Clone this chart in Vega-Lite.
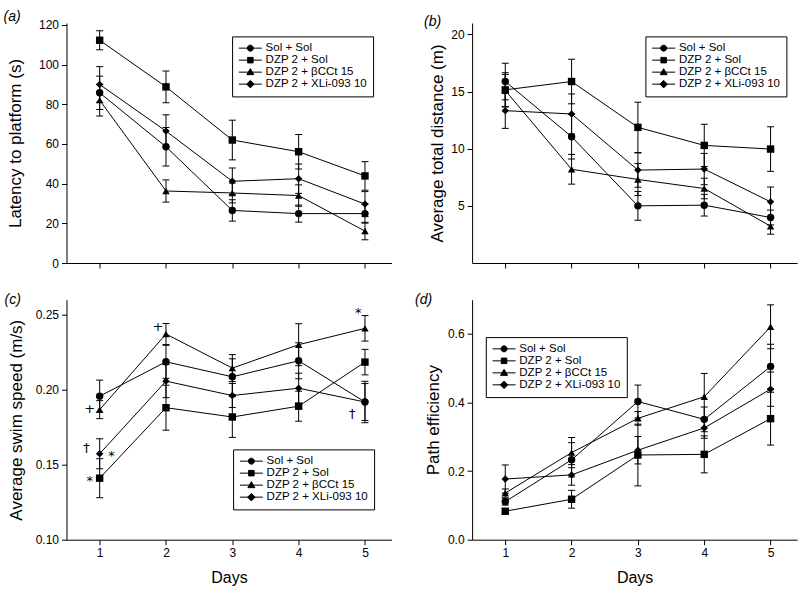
{
  "$schema": "https://vega.github.io/schema/vega-lite/v6.json",
  "background": "white",
  "padding": {"left": 3.5, "top": 10, "right": 5, "bottom": 5},
  "columns": 2,
  "spacing": {"row": 36.7, "column": 80.6},
  "bounds": "flush",
  "resolve": {"scale": {"x": "independent", "y": "independent", "shape": "independent"}, "legend": {"shape": "independent"}, "axis": {"x": "independent", "y": "independent"}},
  "datasets": {
    "pts": [
      {"panel": "a", "group": "Sol + Sol", "day": 1, "value": 85.8, "lo": 77.4, "hi": 94.2},
      {"panel": "a", "group": "Sol + Sol", "day": 2, "value": 58.6, "lo": 48.9, "hi": 68.3},
      {"panel": "a", "group": "Sol + Sol", "day": 3, "value": 26.5, "lo": 21.1, "hi": 31.9},
      {"panel": "a", "group": "Sol + Sol", "day": 4, "value": 24.9, "lo": 20.6, "hi": 29.2},
      {"panel": "a", "group": "Sol + Sol", "day": 5, "value": 24.9, "lo": 20.1, "hi": 29.7},
      {"panel": "a", "group": "DZP 2 + Sol", "day": 1, "value": 112.3, "lo": 107.5, "hi": 117.1},
      {"panel": "a", "group": "DZP 2 + Sol", "day": 2, "value": 88.8, "lo": 80.8, "hi": 96.8},
      {"panel": "a", "group": "DZP 2 + Sol", "day": 3, "value": 62.0, "lo": 52.0, "hi": 72.0},
      {"panel": "a", "group": "DZP 2 + Sol", "day": 4, "value": 56.1, "lo": 47.4, "hi": 64.8},
      {"panel": "a", "group": "DZP 2 + Sol", "day": 5, "value": 43.9, "lo": 36.7, "hi": 51.1},
      {"panel": "a", "group": "DZP 2 + βCCt 15", "day": 1, "value": 82.1, "lo": 74.1, "hi": 90.1},
      {"panel": "a", "group": "DZP 2 + βCCt 15", "day": 2, "value": 36.3, "lo": 30.7, "hi": 41.9},
      {"panel": "a", "group": "DZP 2 + βCCt 15", "day": 3, "value": 35.3, "lo": 30.3, "hi": 40.3},
      {"panel": "a", "group": "DZP 2 + βCCt 15", "day": 4, "value": 34.0, "lo": 28.6, "hi": 39.4},
      {"panel": "a", "group": "DZP 2 + βCCt 15", "day": 5, "value": 16.1, "lo": 11.7, "hi": 20.5},
      {"panel": "a", "group": "DZP 2 + XLi-093 10", "day": 1, "value": 90.0, "lo": 81.0, "hi": 99.0},
      {"panel": "a", "group": "DZP 2 + XLi-093 10", "day": 2, "value": 66.5, "lo": 58.3, "hi": 74.7},
      {"panel": "a", "group": "DZP 2 + XLi-093 10", "day": 3, "value": 41.2, "lo": 34.5, "hi": 47.9},
      {"panel": "a", "group": "DZP 2 + XLi-093 10", "day": 4, "value": 42.5, "lo": 35.1, "hi": 49.9},
      {"panel": "a", "group": "DZP 2 + XLi-093 10", "day": 5, "value": 29.7, "lo": 23.4, "hi": 36.0},

      {"panel": "b", "group": "Sol + Sol", "day": 1, "value": 15.88, "lo": 14.28, "hi": 17.48},
      {"panel": "b", "group": "Sol + Sol", "day": 2, "value": 11.05, "lo": 9.1, "hi": 13.0},
      {"panel": "b", "group": "Sol + Sol", "day": 3, "value": 5.0, "lo": 3.74, "hi": 6.26},
      {"panel": "b", "group": "Sol + Sol", "day": 4, "value": 5.06, "lo": 4.11, "hi": 6.01},
      {"panel": "b", "group": "Sol + Sol", "day": 5, "value": 3.98, "lo": 3.33, "hi": 4.63},
      {"panel": "b", "group": "DZP 2 + Sol", "day": 1, "value": 15.15, "lo": 13.65, "hi": 16.65},
      {"panel": "b", "group": "DZP 2 + Sol", "day": 2, "value": 15.88, "lo": 13.93, "hi": 17.83},
      {"panel": "b", "group": "DZP 2 + Sol", "day": 3, "value": 11.87, "lo": 9.67, "hi": 14.07},
      {"panel": "b", "group": "DZP 2 + Sol", "day": 4, "value": 10.29, "lo": 8.44, "hi": 12.14},
      {"panel": "b", "group": "DZP 2 + Sol", "day": 5, "value": 9.97, "lo": 8.02, "hi": 11.92},
      {"panel": "b", "group": "DZP 2 + βCCt 15", "day": 1, "value": 15.1, "lo": 13.7, "hi": 16.5},
      {"panel": "b", "group": "DZP 2 + βCCt 15", "day": 2, "value": 8.2, "lo": 6.9, "hi": 9.5},
      {"panel": "b", "group": "DZP 2 + βCCt 15", "day": 3, "value": 7.31, "lo": 5.91, "hi": 8.71},
      {"panel": "b", "group": "DZP 2 + βCCt 15", "day": 4, "value": 6.52, "lo": 5.62, "hi": 7.42},
      {"panel": "b", "group": "DZP 2 + βCCt 15", "day": 5, "value": 3.22, "lo": 2.52, "hi": 3.92},
      {"panel": "b", "group": "DZP 2 + XLi-093 10", "day": 1, "value": 13.33, "lo": 11.78, "hi": 14.88},
      {"panel": "b", "group": "DZP 2 + XLi-093 10", "day": 2, "value": 13.04, "lo": 11.29, "hi": 14.79},
      {"panel": "b", "group": "DZP 2 + XLi-093 10", "day": 3, "value": 8.13, "lo": 6.63, "hi": 9.63},
      {"panel": "b", "group": "DZP 2 + XLi-093 10", "day": 4, "value": 8.22, "lo": 6.85, "hi": 9.59},
      {"panel": "b", "group": "DZP 2 + XLi-093 10", "day": 5, "value": 5.35, "lo": 4.05, "hi": 6.65},

      {"panel": "c", "group": "Sol + Sol", "day": 1, "value": 0.1957, "lo": 0.185, "hi": 0.2064},
      {"panel": "c", "group": "Sol + Sol", "day": 2, "value": 0.2186, "lo": 0.2076, "hi": 0.2296},
      {"panel": "c", "group": "Sol + Sol", "day": 3, "value": 0.2086, "lo": 0.1966, "hi": 0.2206},
      {"panel": "c", "group": "Sol + Sol", "day": 4, "value": 0.2193, "lo": 0.2073, "hi": 0.2313},
      {"panel": "c", "group": "Sol + Sol", "day": 5, "value": 0.1918, "lo": 0.1795, "hi": 0.2041},
      {"panel": "c", "group": "DZP 2 + Sol", "day": 1, "value": 0.141, "lo": 0.128, "hi": 0.154},
      {"panel": "c", "group": "DZP 2 + Sol", "day": 2, "value": 0.188, "lo": 0.173, "hi": 0.203},
      {"panel": "c", "group": "DZP 2 + Sol", "day": 3, "value": 0.1818, "lo": 0.1682, "hi": 0.1954},
      {"panel": "c", "group": "DZP 2 + Sol", "day": 4, "value": 0.189, "lo": 0.179, "hi": 0.199},
      {"panel": "c", "group": "DZP 2 + Sol", "day": 5, "value": 0.2184, "lo": 0.2099, "hi": 0.2269},
      {"panel": "c", "group": "DZP 2 + βCCt 15", "day": 1, "value": 0.1867, "lo": 0.1807, "hi": 0.1927},
      {"panel": "c", "group": "DZP 2 + βCCt 15", "day": 2, "value": 0.2371, "lo": 0.2301, "hi": 0.2441},
      {"panel": "c", "group": "DZP 2 + βCCt 15", "day": 3, "value": 0.2144, "lo": 0.2054, "hi": 0.2234},
      {"panel": "c", "group": "DZP 2 + βCCt 15", "day": 4, "value": 0.23, "lo": 0.216, "hi": 0.244},
      {"panel": "c", "group": "DZP 2 + βCCt 15", "day": 5, "value": 0.2409, "lo": 0.2324, "hi": 0.2494},
      {"panel": "c", "group": "DZP 2 + XLi-093 10", "day": 1, "value": 0.1573, "lo": 0.1473, "hi": 0.1673},
      {"panel": "c", "group": "DZP 2 + XLi-093 10", "day": 2, "value": 0.2057, "lo": 0.1947, "hi": 0.2167},
      {"panel": "c", "group": "DZP 2 + XLi-093 10", "day": 3, "value": 0.1961, "lo": 0.1881, "hi": 0.2041},
      {"panel": "c", "group": "DZP 2 + XLi-093 10", "day": 4, "value": 0.201, "lo": 0.191, "hi": 0.211},
      {"panel": "c", "group": "DZP 2 + XLi-093 10", "day": 5, "value": 0.1918, "lo": 0.178, "hi": 0.2056},

      {"panel": "d", "group": "Sol + Sol", "day": 1, "value": 0.111, "lo": 0.101, "hi": 0.121},
      {"panel": "d", "group": "Sol + Sol", "day": 2, "value": 0.233, "lo": 0.183, "hi": 0.283},
      {"panel": "d", "group": "Sol + Sol", "day": 3, "value": 0.403, "lo": 0.355, "hi": 0.451},
      {"panel": "d", "group": "Sol + Sol", "day": 4, "value": 0.351, "lo": 0.315, "hi": 0.387},
      {"panel": "d", "group": "Sol + Sol", "day": 5, "value": 0.505, "lo": 0.44, "hi": 0.57},
      {"panel": "d", "group": "DZP 2 + Sol", "day": 1, "value": 0.083, "lo": 0.075, "hi": 0.091},
      {"panel": "d", "group": "DZP 2 + Sol", "day": 2, "value": 0.118, "lo": 0.092, "hi": 0.144},
      {"panel": "d", "group": "DZP 2 + Sol", "day": 3, "value": 0.247, "lo": 0.157, "hi": 0.337},
      {"panel": "d", "group": "DZP 2 + Sol", "day": 4, "value": 0.249, "lo": 0.195, "hi": 0.303},
      {"panel": "d", "group": "DZP 2 + Sol", "day": 5, "value": 0.353, "lo": 0.276, "hi": 0.43},
      {"panel": "d", "group": "DZP 2 + βCCt 15", "day": 1, "value": 0.136, "lo": 0.124, "hi": 0.148},
      {"panel": "d", "group": "DZP 2 + βCCt 15", "day": 2, "value": 0.254, "lo": 0.21, "hi": 0.298},
      {"panel": "d", "group": "DZP 2 + βCCt 15", "day": 3, "value": 0.354, "lo": 0.334, "hi": 0.374},
      {"panel": "d", "group": "DZP 2 + βCCt 15", "day": 4, "value": 0.417, "lo": 0.349, "hi": 0.485},
      {"panel": "d", "group": "DZP 2 + βCCt 15", "day": 5, "value": 0.621, "lo": 0.557, "hi": 0.685},
      {"panel": "d", "group": "DZP 2 + XLi-093 10", "day": 1, "value": 0.177, "lo": 0.136, "hi": 0.218},
      {"panel": "d", "group": "DZP 2 + XLi-093 10", "day": 2, "value": 0.189, "lo": 0.159, "hi": 0.219},
      {"panel": "d", "group": "DZP 2 + XLi-093 10", "day": 3, "value": 0.261, "lo": 0.221, "hi": 0.301},
      {"panel": "d", "group": "DZP 2 + XLi-093 10", "day": 4, "value": 0.326, "lo": 0.296, "hi": 0.356},
      {"panel": "d", "group": "DZP 2 + XLi-093 10", "day": 5, "value": 0.439, "lo": 0.389, "hi": 0.489}
    ],
    "ann": [
      {"day": 0.85, "value": 0.187, "label": "+"},
      {"day": 0.8, "value": 0.161, "label": "†"},
      {"day": 1.18, "value": 0.1558, "label": "*"},
      {"day": 0.85, "value": 0.1393, "label": "*"},
      {"day": 1.88, "value": 0.242, "label": "+"},
      {"day": 4.9, "value": 0.2513, "label": "*"},
      {"day": 4.81, "value": 0.184, "label": "†"}
    ]
  },
  "concat": [
    {
      "width": 325, "height": 240,
      "title": {"text": "(a)", "anchor": "start", "frame": "group", "dx": -63, "offset": -5.5},
      "data": {"name": "pts"},
      "transform": [{"filter": "datum.panel === 'a'"}],
      "resolve": {"scale": {"shape": "independent"}},
      "encoding": {"x": {"field": "day", "type": "quantitative", "scale": {"domain": [0.5, 5.4], "nice": false, "zero": false}, "axis": {"values": [1, 2, 3, 4, 5], "labels": false, "title": null}}},
      "layer": [
        {"mark": {"type": "rule", "color": "black", "strokeWidth": 1}, "encoding": {"y": {"field": "lo", "type": "quantitative", "scale": {"domain": [0, 121], "nice": false, "zero": false}, "axis": {"values": [0, 20, 40, 60, 80, 100, 120], "title": "Latency to platform (s)", "titlePadding": 13.5}}, "y2": {"field": "hi"}}},
        {"mark": {"type": "tick", "color": "black", "orient": "horizontal", "size": 7, "thickness": 1, "opacity": 1}, "encoding": {"y": {"field": "lo", "type": "quantitative", "scale": {"domain": [0, 121], "nice": false, "zero": false}, "axis": {"values": [0, 20, 40, 60, 80, 100, 120], "title": "Latency to platform (s)", "titlePadding": 13.5}}}},
        {"mark": {"type": "tick", "color": "black", "orient": "horizontal", "size": 7, "thickness": 1, "opacity": 1}, "encoding": {"y": {"field": "hi", "type": "quantitative", "scale": {"domain": [0, 121], "nice": false, "zero": false}, "axis": {"values": [0, 20, 40, 60, 80, 100, 120], "title": "Latency to platform (s)", "titlePadding": 13.5}}}},
        {"mark": {"type": "line", "color": "black", "strokeWidth": 1}, "encoding": {"y": {"field": "value", "type": "quantitative", "scale": {"domain": [0, 121], "nice": false, "zero": false}, "axis": {"values": [0, 20, 40, 60, 80, 100, 120], "title": "Latency to platform (s)", "titlePadding": 13.5}}, "detail": {"field": "group", "type": "nominal"}}},
        {"mark": {"type": "point", "filled": true, "color": "black", "opacity": 1, "size": 55}, "encoding": {"y": {"field": "value", "type": "quantitative", "scale": {"domain": [0, 121], "nice": false, "zero": false}, "axis": {"values": [0, 20, 40, 60, 80, 100, 120], "title": "Latency to platform (s)", "titlePadding": 13.5}},
          "shape": {"field": "group", "type": "nominal", "scale": {"domain": ["Sol + Sol", "DZP 2 + Sol", "DZP 2 + βCCt 15", "DZP 2 + XLi-093 10"], "range": ["circle", "square", "triangle-up", "diamond"]}, "legend": null}}},
        {"transform": [{"filter": "false"}], "mark": {"type": "point", "filled": true, "fill": "black", "stroke": "black", "strokeWidth": 1, "opacity": 1, "size": 100}, "encoding": {"y": {"field": "value", "type": "quantitative", "scale": {"domain": [0, 121], "nice": false, "zero": false}, "axis": {"values": [0, 20, 40, 60, 80, 100, 120], "title": "Latency to platform (s)", "titlePadding": 13.5}},
          "shape": {"field": "group", "type": "nominal", "scale": {"domain": ["Sol + Sol", "DZP 2 + Sol", "DZP 2 + βCCt 15", "DZP 2 + XLi-093 10"], "range": ["M-1,0H3.6M0.7,0A0.6,0.6,0,1,1,1.9,0A0.6,0.6,0,1,1,0.7,0Z", "M-1,0H3.6M0.75,-0.55H1.85V0.55H0.75Z", "M-1,0H3.6M1.3,-0.7L2.0,0.5H0.6Z", "M-1,0H3.6M1.3,-0.75L2.05,0L1.3,0.75L0.55,0Z"]},
            "legend": {"orient": "none", "legendX": 165.6, "legendY": 13.4, "title": null}}}}
      ]
    },
    {
      "width": 325, "height": 240,
      "title": {"text": "(b)", "anchor": "start", "frame": "group", "dx": -48, "offset": -5.5},
      "data": {"name": "pts"},
      "transform": [{"filter": "datum.panel === 'b'"}],
      "resolve": {"scale": {"shape": "independent"}},
      "encoding": {"x": {"field": "day", "type": "quantitative", "scale": {"domain": [0.5, 5.4], "nice": false, "zero": false}, "axis": {"values": [1, 2, 3, 4, 5], "labels": false, "title": null}}},
      "layer": [
        {"mark": {"type": "rule", "color": "black", "strokeWidth": 1}, "encoding": {"y": {"field": "lo", "type": "quantitative", "scale": {"domain": [0, 21], "nice": false, "zero": false}, "axis": {"values": [5, 10, 15, 20], "title": "Average total distance (m)", "titlePadding": 4}}, "y2": {"field": "hi"}}},
        {"mark": {"type": "tick", "color": "black", "orient": "horizontal", "size": 7, "thickness": 1, "opacity": 1}, "encoding": {"y": {"field": "lo", "type": "quantitative", "scale": {"domain": [0, 21], "nice": false, "zero": false}, "axis": {"values": [5, 10, 15, 20], "title": "Average total distance (m)", "titlePadding": 4}}}},
        {"mark": {"type": "tick", "color": "black", "orient": "horizontal", "size": 7, "thickness": 1, "opacity": 1}, "encoding": {"y": {"field": "hi", "type": "quantitative", "scale": {"domain": [0, 21], "nice": false, "zero": false}, "axis": {"values": [5, 10, 15, 20], "title": "Average total distance (m)", "titlePadding": 4}}}},
        {"mark": {"type": "line", "color": "black", "strokeWidth": 1}, "encoding": {"y": {"field": "value", "type": "quantitative", "scale": {"domain": [0, 21], "nice": false, "zero": false}, "axis": {"values": [5, 10, 15, 20], "title": "Average total distance (m)", "titlePadding": 4}}, "detail": {"field": "group", "type": "nominal"}}},
        {"mark": {"type": "point", "filled": true, "color": "black", "opacity": 1, "size": 55}, "encoding": {"y": {"field": "value", "type": "quantitative", "scale": {"domain": [0, 21], "nice": false, "zero": false}, "axis": {"values": [5, 10, 15, 20], "title": "Average total distance (m)", "titlePadding": 4}},
          "shape": {"field": "group", "type": "nominal", "scale": {"domain": ["Sol + Sol", "DZP 2 + Sol", "DZP 2 + βCCt 15", "DZP 2 + XLi-093 10"], "range": ["circle", "square", "triangle-up", "diamond"]}, "legend": null}}},
        {"transform": [{"filter": "false"}], "mark": {"type": "point", "filled": true, "fill": "black", "stroke": "black", "strokeWidth": 1, "opacity": 1, "size": 100}, "encoding": {"y": {"field": "value", "type": "quantitative", "scale": {"domain": [0, 21], "nice": false, "zero": false}, "axis": {"values": [5, 10, 15, 20], "title": "Average total distance (m)", "titlePadding": 4}},
          "shape": {"field": "group", "type": "nominal", "scale": {"domain": ["Sol + Sol", "DZP 2 + Sol", "DZP 2 + βCCt 15", "DZP 2 + XLi-093 10"], "range": ["M-1,0H3.6M0.7,0A0.6,0.6,0,1,1,1.9,0A0.6,0.6,0,1,1,0.7,0Z", "M-1,0H3.6M0.75,-0.55H1.85V0.55H0.75Z", "M-1,0H3.6M1.3,-0.7L2.0,0.5H0.6Z", "M-1,0H3.6M1.3,-0.75L2.05,0L1.3,0.75L0.55,0Z"]},
            "legend": {"orient": "none", "legendX": 173.3, "legendY": 13.4, "title": null}}}}
      ]
    },
    {
      "width": 325, "height": 240,
      "title": {"text": "(c)", "anchor": "start", "frame": "group", "dx": -62, "offset": -7.5},
      "resolve": {"scale": {"shape": "independent"}},
      "encoding": {"x": {"field": "day", "type": "quantitative", "scale": {"domain": [0.5, 5.4], "nice": false, "zero": false}, "axis": {"values": [1, 2, 3, 4, 5], "format": "d", "title": "Days", "titleFontSize": 16, "titlePadding": 11}}},
      "layer": [
        {"data": {"name": "pts"}, "transform": [{"filter": "datum.panel === 'c'"}], "mark": {"type": "rule", "color": "black", "strokeWidth": 1}, "encoding": {"y": {"field": "lo", "type": "quantitative", "scale": {"domain": [0.1, 0.26], "nice": false, "zero": false}, "axis": {"values": [0.1, 0.15, 0.2, 0.25], "format": ".2f", "title": "Average swim speed (m/s)", "titlePadding": 10}}, "y2": {"field": "hi"}}},
        {"data": {"name": "pts"}, "transform": [{"filter": "datum.panel === 'c'"}], "mark": {"type": "tick", "color": "black", "orient": "horizontal", "size": 7, "thickness": 1, "opacity": 1}, "encoding": {"y": {"field": "lo", "type": "quantitative", "scale": {"domain": [0.1, 0.26], "nice": false, "zero": false}, "axis": {"values": [0.1, 0.15, 0.2, 0.25], "format": ".2f", "title": "Average swim speed (m/s)", "titlePadding": 10}}}},
        {"data": {"name": "pts"}, "transform": [{"filter": "datum.panel === 'c'"}], "mark": {"type": "tick", "color": "black", "orient": "horizontal", "size": 7, "thickness": 1, "opacity": 1}, "encoding": {"y": {"field": "hi", "type": "quantitative", "scale": {"domain": [0.1, 0.26], "nice": false, "zero": false}, "axis": {"values": [0.1, 0.15, 0.2, 0.25], "format": ".2f", "title": "Average swim speed (m/s)", "titlePadding": 10}}}},
        {"data": {"name": "pts"}, "transform": [{"filter": "datum.panel === 'c'"}], "mark": {"type": "line", "color": "black", "strokeWidth": 1}, "encoding": {"y": {"field": "value", "type": "quantitative", "scale": {"domain": [0.1, 0.26], "nice": false, "zero": false}, "axis": {"values": [0.1, 0.15, 0.2, 0.25], "format": ".2f", "title": "Average swim speed (m/s)", "titlePadding": 10}}, "detail": {"field": "group", "type": "nominal"}}},
        {"data": {"name": "pts"}, "transform": [{"filter": "datum.panel === 'c'"}], "mark": {"type": "point", "filled": true, "color": "black", "opacity": 1, "size": 55}, "encoding": {"y": {"field": "value", "type": "quantitative", "scale": {"domain": [0.1, 0.26], "nice": false, "zero": false}, "axis": {"values": [0.1, 0.15, 0.2, 0.25], "format": ".2f", "title": "Average swim speed (m/s)", "titlePadding": 10}},
          "shape": {"field": "group", "type": "nominal", "scale": {"domain": ["Sol + Sol", "DZP 2 + Sol", "DZP 2 + βCCt 15", "DZP 2 + XLi-093 10"], "range": ["circle", "square", "triangle-up", "diamond"]}, "legend": null}}},
        {"data": {"name": "pts"}, "transform": [{"filter": "false"}], "mark": {"type": "point", "filled": true, "fill": "black", "stroke": "black", "strokeWidth": 1, "opacity": 1, "size": 100}, "encoding": {"y": {"field": "value", "type": "quantitative", "scale": {"domain": [0.1, 0.26], "nice": false, "zero": false}, "axis": {"values": [0.1, 0.15, 0.2, 0.25], "format": ".2f", "title": "Average swim speed (m/s)", "titlePadding": 10}},
          "shape": {"field": "group", "type": "nominal", "scale": {"domain": ["Sol + Sol", "DZP 2 + Sol", "DZP 2 + βCCt 15", "DZP 2 + XLi-093 10"], "range": ["M-1,0H3.6M0.7,0A0.6,0.6,0,1,1,1.9,0A0.6,0.6,0,1,1,0.7,0Z", "M-1,0H3.6M0.75,-0.55H1.85V0.55H0.75Z", "M-1,0H3.6M1.3,-0.7L2.0,0.5H0.6Z", "M-1,0H3.6M1.3,-0.75L2.05,0L1.3,0.75L0.55,0Z"]},
            "legend": {"orient": "none", "legendX": 166.6, "legendY": 149.7, "title": null}}}},
        {"data": {"name": "ann"}, "mark": {"type": "text", "color": "black", "fontSize": 13, "font": "DejaVu Sans", "align": "center", "baseline": "middle"}, "encoding": {"y": {"field": "value", "type": "quantitative", "scale": {"domain": [0.1, 0.26], "nice": false, "zero": false}, "axis": {"values": [0.1, 0.15, 0.2, 0.25], "format": ".2f", "title": "Average swim speed (m/s)", "titlePadding": 10}}, "text": {"field": "label"}}}
      ]
    },
    {
      "width": 325, "height": 240,
      "title": {"text": "(d)", "anchor": "start", "frame": "group", "dx": -57, "offset": -7.5},
      "data": {"name": "pts"},
      "transform": [{"filter": "datum.panel === 'd'"}],
      "resolve": {"scale": {"shape": "independent"}},
      "encoding": {"x": {"field": "day", "type": "quantitative", "scale": {"domain": [0.5, 5.4], "nice": false, "zero": false}, "axis": {"values": [1, 2, 3, 4, 5], "format": "d", "title": "Days", "titleFontSize": 16, "titlePadding": 11}}},
      "layer": [
        {"mark": {"type": "rule", "color": "black", "strokeWidth": 1}, "encoding": {"y": {"field": "lo", "type": "quantitative", "scale": {"domain": [0, 0.7], "nice": false, "zero": false}, "axis": {"values": [0, 0.2, 0.4, 0.6], "format": ".1f", "title": "Path efficiency", "titlePadding": 4.5}}, "y2": {"field": "hi"}}},
        {"mark": {"type": "tick", "color": "black", "orient": "horizontal", "size": 7, "thickness": 1, "opacity": 1}, "encoding": {"y": {"field": "lo", "type": "quantitative", "scale": {"domain": [0, 0.7], "nice": false, "zero": false}, "axis": {"values": [0, 0.2, 0.4, 0.6], "format": ".1f", "title": "Path efficiency", "titlePadding": 4.5}}}},
        {"mark": {"type": "tick", "color": "black", "orient": "horizontal", "size": 7, "thickness": 1, "opacity": 1}, "encoding": {"y": {"field": "hi", "type": "quantitative", "scale": {"domain": [0, 0.7], "nice": false, "zero": false}, "axis": {"values": [0, 0.2, 0.4, 0.6], "format": ".1f", "title": "Path efficiency", "titlePadding": 4.5}}}},
        {"mark": {"type": "line", "color": "black", "strokeWidth": 1}, "encoding": {"y": {"field": "value", "type": "quantitative", "scale": {"domain": [0, 0.7], "nice": false, "zero": false}, "axis": {"values": [0, 0.2, 0.4, 0.6], "format": ".1f", "title": "Path efficiency", "titlePadding": 4.5}}, "detail": {"field": "group", "type": "nominal"}}},
        {"mark": {"type": "point", "filled": true, "color": "black", "opacity": 1, "size": 55}, "encoding": {"y": {"field": "value", "type": "quantitative", "scale": {"domain": [0, 0.7], "nice": false, "zero": false}, "axis": {"values": [0, 0.2, 0.4, 0.6], "format": ".1f", "title": "Path efficiency", "titlePadding": 4.5}},
          "shape": {"field": "group", "type": "nominal", "scale": {"domain": ["Sol + Sol", "DZP 2 + Sol", "DZP 2 + βCCt 15", "DZP 2 + XLi-093 10"], "range": ["circle", "square", "triangle-up", "diamond"]}, "legend": null}}},
        {"transform": [{"filter": "false"}], "mark": {"type": "point", "filled": true, "fill": "black", "stroke": "black", "strokeWidth": 1, "opacity": 1, "size": 100}, "encoding": {"y": {"field": "value", "type": "quantitative", "scale": {"domain": [0, 0.7], "nice": false, "zero": false}, "axis": {"values": [0, 0.2, 0.4, 0.6], "format": ".1f", "title": "Path efficiency", "titlePadding": 4.5}},
          "shape": {"field": "group", "type": "nominal", "scale": {"domain": ["Sol + Sol", "DZP 2 + Sol", "DZP 2 + βCCt 15", "DZP 2 + XLi-093 10"], "range": ["M-1,0H3.6M0.7,0A0.6,0.6,0,1,1,1.9,0A0.6,0.6,0,1,1,0.7,0Z", "M-1,0H3.6M0.75,-0.55H1.85V0.55H0.75Z", "M-1,0H3.6M1.3,-0.7L2.0,0.5H0.6Z", "M-1,0H3.6M1.3,-0.75L2.05,0L1.3,0.75L0.55,0Z"]},
            "legend": {"orient": "none", "legendX": 13.7, "legendY": 37.4, "title": null}}}}
      ]
    }
  ],
  "config": {
    "font": "Liberation Sans",
    "view": {"stroke": null},
    "title": {"fontSize": 14, "fontWeight": "normal", "fontStyle": "italic", "color": "black", "font": "Liberation Sans"},
    "axis": {"domainColor": "black", "tickColor": "black", "labelColor": "black", "titleColor": "black", "labelFontSize": 12, "titleFontSize": 17, "titleFontWeight": "normal", "grid": false, "tickSize": 5, "labelPadding": 3, "domainWidth": 1, "tickWidth": 1, "labelFont": "Liberation Sans", "titleFont": "Liberation Sans"},
    "legend": {"padding": 6, "strokeColor": "black", "fillColor": "white", "cornerRadius": 0, "symbolSize": 100, "labelFontSize": 11.5, "labelFont": "Liberation Sans", "labelColor": "black", "labelOffset": 16, "rowPadding": -1.7, "labelLimit": 220, "symbolOpacity": 1, "symbolStrokeWidth": 1}
  }
}
